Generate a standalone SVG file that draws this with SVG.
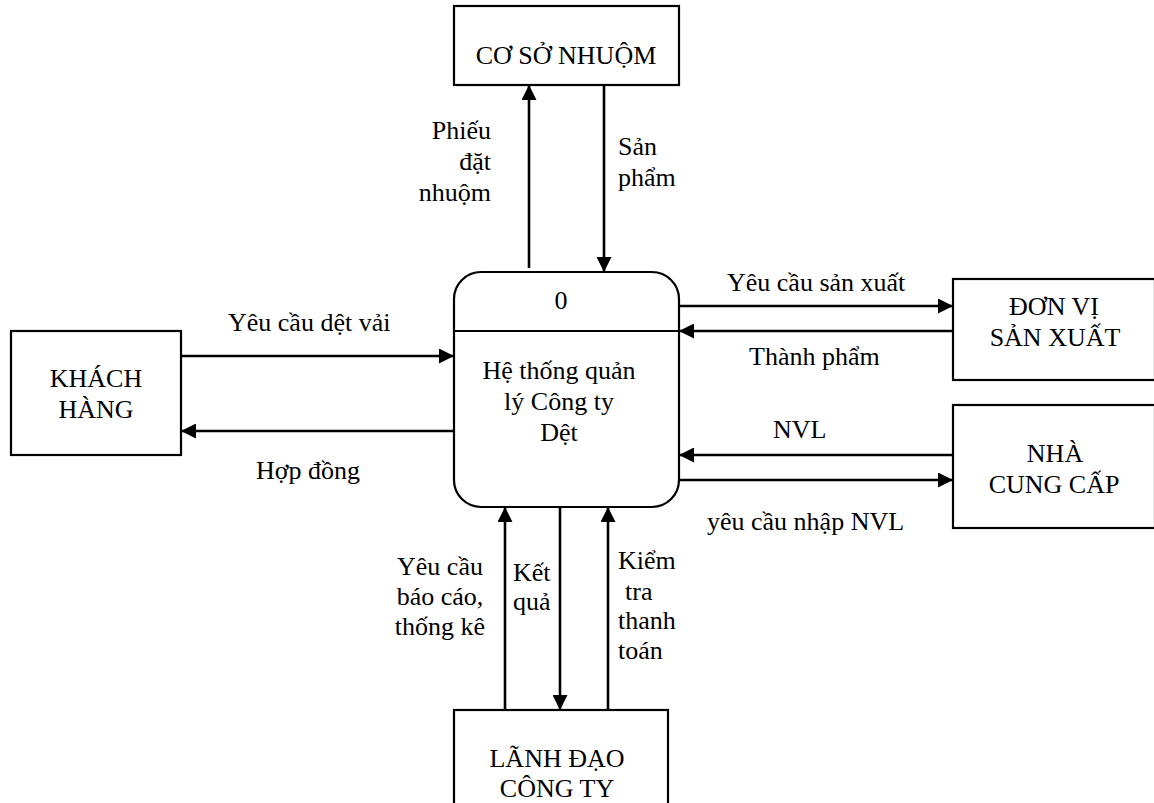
<svg xmlns="http://www.w3.org/2000/svg" width="1154" height="803" viewBox="0 0 1154 803">
  <style>
    text { font-size: 26px; fill: #000; }
    .box { fill: #fff; stroke: #000; stroke-width: 2.2; }
    .flow { fill: none; stroke: #000; stroke-width: 2.6; }
    .mid { text-anchor: middle; }
    .end { text-anchor: end; }
  </style>
  <defs>
    <marker id="arrow" markerUnits="userSpaceOnUse" markerWidth="15" markerHeight="15" refX="15" refY="7.5" orient="auto">
      <path d="M0,0 L15,7.5 L0,15 z" fill="#000"/>
    </marker>
  </defs>

  <rect width="1154" height="803" fill="#fff"/>

  <g font-family="'Liberation Serif', Tinos, 'Times New Roman', 'DejaVu Serif', serif">
  <!-- data flows -->
  <g id="connectors">
    <line class="flow" x1="529" y1="268" x2="529" y2="85" marker-end="url(#arrow)"/>
    <line class="flow" x1="604" y1="85" x2="604" y2="272" marker-end="url(#arrow)"/>
    <line class="flow" x1="181" y1="356" x2="454" y2="356" marker-end="url(#arrow)"/>
    <line class="flow" x1="454" y1="431" x2="181" y2="431" marker-end="url(#arrow)"/>
    <line class="flow" x1="679" y1="306" x2="953" y2="306" marker-end="url(#arrow)"/>
    <line class="flow" x1="953" y1="331" x2="679" y2="331" marker-end="url(#arrow)"/>
    <line class="flow" x1="953" y1="455" x2="679" y2="455" marker-end="url(#arrow)"/>
    <line class="flow" x1="679" y1="480" x2="953" y2="480" marker-end="url(#arrow)"/>
    <line class="flow" x1="505" y1="710" x2="505" y2="507" marker-end="url(#arrow)"/>
    <line class="flow" x1="560" y1="507" x2="560" y2="710" marker-end="url(#arrow)"/>
    <line class="flow" x1="608" y1="710" x2="608" y2="507" marker-end="url(#arrow)"/>

    <text class="end" x="491" y="139">Phiếu</text>
    <text class="end" x="491" y="170">đặt</text>
    <text class="end" x="491" y="201">nhuộm</text>
    <text x="618" y="155">Sản</text>
    <text x="618" y="186">phẩm</text>

    <text x="228" y="331">Yêu cầu dệt vải</text>
    <text x="256" y="479">Hợp đồng</text>

    <text x="727" y="291">Yêu cầu sản xuất</text>
    <text x="749" y="365">Thành phẩm</text>
    <text x="773" y="438">NVL</text>
    <text x="707" y="530">yêu cầu nhập NVL</text>

    <text class="mid" x="440" y="575">Yêu cầu</text>
    <text class="mid" x="440" y="605">báo cáo,</text>
    <text class="mid" x="440" y="635">thống kê</text>
    <text x="513" y="581">Kết</text>
    <text x="513" y="610">quả</text>
    <text x="618" y="569">Kiểm</text>
    <text x="625" y="600">tra</text>
    <text x="618" y="629">thanh</text>
    <text x="618" y="659">toán</text>
  </g>

  <!-- central process -->
  <g id="process-0">
    <rect class="box" x="454" y="272" width="225" height="235" rx="27" ry="27"/>
    <line x1="454" y1="331" x2="679" y2="331" stroke="#000" stroke-width="2.2"/>
    <text class="mid" x="561" y="309">0</text>
    <text class="mid" x="559" y="379">Hệ thống quản</text>
    <text class="mid" x="559" y="410">lý Công ty</text>
    <text class="mid" x="559" y="441">Dệt</text>
  </g>

  <!-- external entities -->
  <g id="co-so-nhuom">
    <rect class="box" x="454" y="6" width="225" height="79"/>
    <text class="mid" x="566" y="64">CƠ SỞ NHUỘM</text>
  </g>

  <g id="khach-hang">
    <rect class="box" x="11" y="331" width="170" height="124"/>
    <text class="mid" x="96" y="387">KHÁCH</text>
    <text class="mid" x="96" y="418">HÀNG</text>
  </g>

  <g id="don-vi-san-xuat">
    <rect class="box" x="953" y="279" width="202" height="101"/>
    <text class="mid" x="1054" y="315">ĐƠN VỊ</text>
    <text class="mid" x="1055" y="346">SẢN XUẤT</text>
  </g>

  <g id="nha-cung-cap">
    <rect class="box" x="953" y="405" width="202" height="123"/>
    <text class="mid" x="1055" y="462">NHÀ</text>
    <text class="mid" x="1054" y="493">CUNG CẤP</text>
  </g>

  <g id="lanh-dao-cong-ty">
    <rect class="box" x="454" y="710" width="214" height="110"/>
    <text class="mid" x="557" y="767">LÃNH ĐẠO</text>
    <text class="mid" x="557" y="797">CÔNG TY</text>
  </g>
  </g>
</svg>
